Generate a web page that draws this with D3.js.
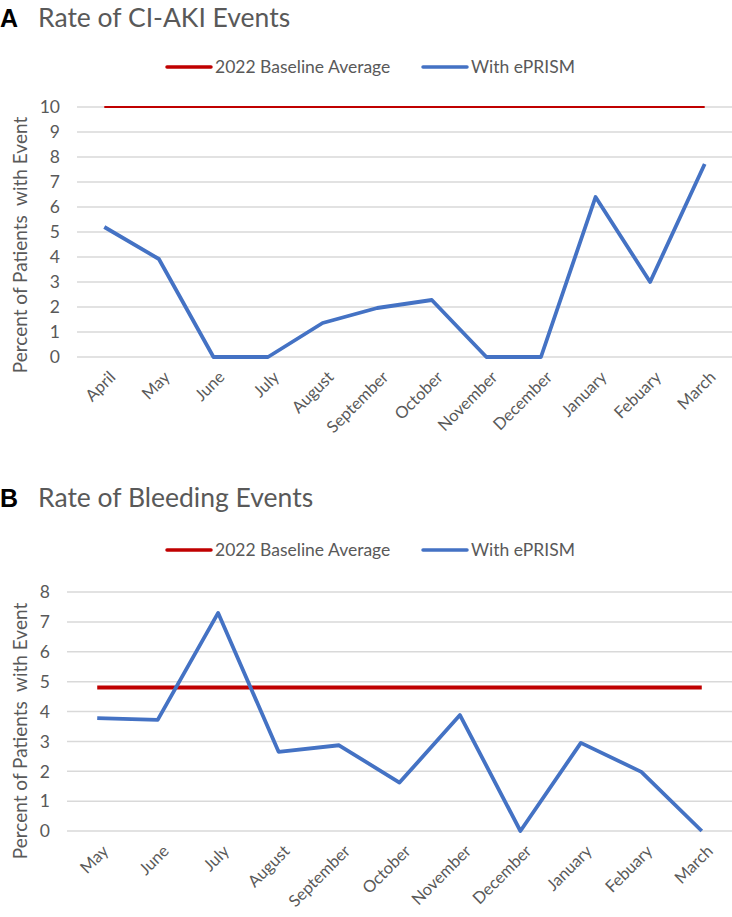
<!DOCTYPE html>
<html>
<head>
<meta charset="utf-8">
<script src="https://cdn.jsdelivr.net/npm/d3@7"></script>
<style>
  body { margin: 0; background: #fff; }
  text { font-family: Lato, "Noto Sans", sans-serif; fill: #595959; }
</style>
</head>
<body>
<script>
// chart A - CI-AKI
const akiMonths = ["April", "May", "June", "July", "August", "September", "October",
  "November", "December", "January", "Febuary", "March"]
const akiRate = [5.2, 3.92, 0, 0, 1.36, 1.96, 2.28, 0, 0, 6.4, 3.0, 7.72]
const akiBaseline = 10
const akiTicks = [0, 1, 2, 3, 4, 5, 6, 7, 8, 9, 10]

// chart B - bleeding
const bleedMonths = ["May", "June", "July", "August", "September", "October",
  "November", "December", "January", "Febuary", "March"]
const bleedRate = [3.78, 3.72, 7.3, 2.65, 2.87, 1.62, 3.88, 0, 2.95, 1.98, 0]
const bleedBaseline = 4.8
const bleedTicks = [0, 1, 2, 3, 4, 5, 6, 7, 8]

const svg = d3.select("body").append("svg")
  .attr("width", 732)
  .attr("height", 917)

function drawChart(opt) {
  const g = svg.append("g")

  // panel letter + title
  g.append("text")
    .attr("x", 0).attr("y", opt.top + 27)
    .style("font-family", "'Liberation Sans', Arial, sans-serif")
    .style("font-weight", "bold")
    .style("font-size", "25px")
    .style("fill", "#000")
    .text(opt.letter)
  g.append("text")
    .attr("x", 38).attr("y", opt.top + 27)
    .style("font-size", "26.5px")
    .text(opt.title)

  const x = d3.scalePoint()
    .domain(opt.months)
    .range([opt.left, 732])
    .padding(0.5)

  const y = d3.scaleLinear()
    .domain([0, opt.max])
    .range([opt.bottom, opt.yTop])

  // gridlines
  g.append("g")
    .selectAll("line")
    .data(opt.ticks)
    .enter()
    .append("line")
    .attr("x1", opt.left).attr("x2", 732)
    .attr("y1", d => y(d)).attr("y2", d => y(d))
    .attr("stroke", "#d9d9d9")
    .attr("stroke-width", 1.5)

  // y tick labels
  g.append("g")
    .selectAll("text")
    .data(opt.ticks)
    .enter()
    .append("text")
    .attr("x", opt.left - 17)
    .attr("y", d => y(d))
    .attr("dy", "0.36em")
    .attr("text-anchor", "end")
    .style("font-size", "17.5px")
    .text(d => d)

  // y axis title
  g.append("text")
    .attr("transform", "translate(27," + opt.titleY + ") rotate(-90)")
    .attr("text-anchor", "middle")
    .style("font-size", "19px")
    .style("white-space", "pre")
    .text("Percent of Patients  with Event")

  // x labels
  g.append("g")
    .selectAll("text")
    .data(opt.months)
    .enter()
    .append("text")
    .attr("transform", d => "translate(" + (x(d) + 4) + "," + (opt.bottom + 13) + ") rotate(-45)")
    .attr("text-anchor", "end")
    .attr("dy", "0.7em")
    .style("font-size", "16.5px")
    .text(d => d)

  // baseline
  const line = d3.line()
    .x(d => x(d.m))
    .y(d => y(d.v))
  g.append("path")
    .datum(opt.months.map(m => ({ m: m, v: opt.baseline })))
    .attr("d", line)
    .attr("fill", "none")
    .attr("stroke", "#c00000")
    .attr("stroke-width", opt.baseWidth)

  // ePRISM line
  g.append("path")
    .datum(opt.months.map((m, i) => ({ m: m, v: opt.values[i] })))
    .attr("d", line)
    .attr("fill", "none")
    .attr("stroke", "#4472c4")
    .attr("stroke-width", 3.8)
    .attr("stroke-linejoin", "round")

  // legend
  const ly = opt.legendY
  const legend = [
    { name: "2022 Baseline Average", color: "#c00000", x: 167 },
    { name: "With ePRISM", color: "#4472c4", x: 423 }
  ]
  const lg = g.append("g").selectAll("g").data(legend).enter().append("g")
  lg.append("line")
    .attr("x1", d => d.x).attr("x2", d => d.x + 44)
    .attr("y1", ly).attr("y2", ly)
    .attr("stroke", d => d.color)
    .attr("stroke-width", 3.5)
    .attr("stroke-linecap", "round")
  lg.append("text")
    .attr("x", d => d.x + 48)
    .attr("y", ly)
    .attr("dy", "0.36em")
    .style("font-size", "17.5px")
    .text(d => d.name)
}

drawChart({
  letter: "A", title: "Rate of CI-AKI Events", top: 0,
  months: akiMonths, values: akiRate, baseline: akiBaseline, baseWidth: 2,
  ticks: akiTicks, max: 10, left: 77, yTop: 107, bottom: 357, legendY: 67, titleY: 245
})

drawChart({
  letter: "B", title: "Rate of Bleeding Events", top: 480,
  months: bleedMonths, values: bleedRate, baseline: bleedBaseline, baseWidth: 4,
  ticks: bleedTicks, max: 8, left: 67, yTop: 592, bottom: 831, legendY: 550, titleY: 731
})
</script>
</body>
</html>
